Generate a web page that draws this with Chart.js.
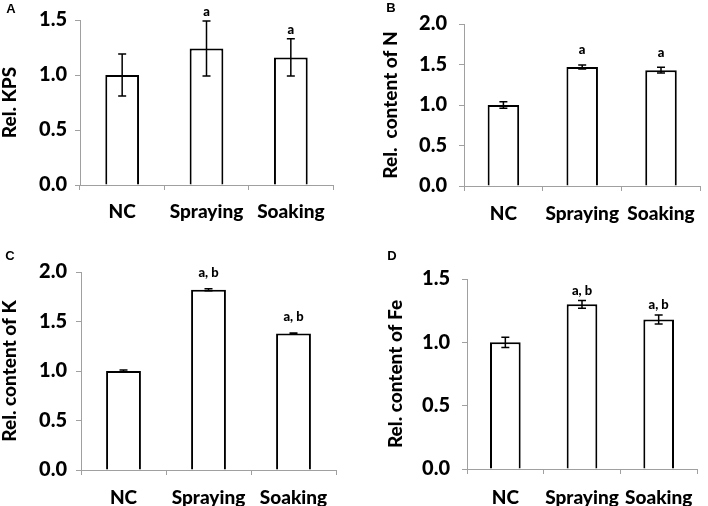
<!DOCTYPE html>
<html>
<head>
<meta charset="utf-8">
<script src="https://cdn.jsdelivr.net/npm/chart.js@4"></script>
<style>
  html, body { margin: 0; padding: 0; background: #fff; }
  #wrap { position: relative; width: 708px; height: 506px; overflow: hidden; }
  canvas { position: absolute; }
</style>
</head>
<body>
<div id="wrap">
  <canvas id="panelA" width="354" height="253" style="left:0;top:0"></canvas>
  <canvas id="panelB" width="354" height="253" style="left:354px;top:0"></canvas>
  <canvas id="panelC" width="354" height="261" style="left:0;top:245px"></canvas>
  <canvas id="panelD" width="354" height="261" style="left:354px;top:245px"></canvas>
</div>
<script>
// data
const categories = ['NC', 'Spraying', 'Soaking'];

const kpsMean = [1.00, 1.24, 1.16];
const kpsErr  = [0.19, 0.25, 0.17];
const kpsSig  = ['', 'a', 'a'];
const kpsTicks = [0, 0.5, 1.0, 1.5];

const nMean = [1.00, 1.47, 1.43];
const nErr  = [0.04, 0.025, 0.035];
const nSig  = ['', 'a', 'a'];
const nTicks = [0, 0.5, 1.0, 1.5, 2.0];

const kMean = [1.00, 1.82, 1.38];
const kErr  = [0.01, 0.01, 0.004];
const kSig  = ['', 'a, b', 'a, b'];
const kTicks = [0, 0.5, 1.0, 1.5, 2.0];

const feMean = [1.00, 1.30, 1.18];
const feErr  = [0.04, 0.03, 0.035];
const feSig  = ['', 'a, b', 'a, b'];
const feTicks = [0, 0.5, 1.0, 1.5];

const FONT = 'Lato, "Open Sans", sans-serif';
const AXIS = '#a0a0a0';

// error bars, significance letters and panel letter
const errSig = {
  id: 'errSig',
  afterDatasetsDraw(chart, args, opts) {
    const ctx = chart.ctx;
    const y = chart.scales.y;
    const meta = chart.getDatasetMeta(0);
    const vals = chart.data.datasets[0].data;
    ctx.save();
    ctx.strokeStyle = '#000';
    ctx.lineWidth = 1.5;
    ctx.fillStyle = '#000';
    ctx.textAlign = 'center';
    ctx.textBaseline = 'middle';
    ctx.font = '900 13px ' + FONT;
    meta.data.forEach((bar, i) => {
      const e = opts.errors[i];
      const cx = bar.x;
      const yt = y.getPixelForValue(vals[i] + e);
      const yb = y.getPixelForValue(vals[i] - e);
      ctx.beginPath();
      ctx.moveTo(cx, yt); ctx.lineTo(cx, yb);
      ctx.moveTo(cx - 4, yt); ctx.lineTo(cx + 4, yt);
      ctx.moveTo(cx - 4, yb); ctx.lineTo(cx + 4, yb);
      ctx.stroke();
      if (opts.sig[i]) ctx.fillText(opts.sig[i], cx, yt - opts.gap);
    });
    ctx.font = 'bold 13px "Liberation Sans", Arial, sans-serif';
    ctx.fillText(opts.letter, opts.letterX, opts.letterY);
    ctx.restore();
  }
};

function makePanel(id, means, errs, sigs, ticks, yTitle, lay) {
  const canvas = document.getElementById(id);
  const W = canvas.width, H = canvas.height;
  const yMax = ticks[ticks.length - 1];
  return new Chart(canvas, {
    type: 'bar',
    data: {
      labels: categories,
      datasets: [{
        data: means,
        backgroundColor: '#ffffff',
        borderColor: '#000000',
        borderWidth: 2,
        barPercentage: lay.barPct,
        categoryPercentage: 1
      }]
    },
    options: {
      responsive: false,
      animation: false,
      events: [],
      layout: { padding: { left: 0, top: lay.area[1], right: W - lay.area[2], bottom: 0 } },
      plugins: {
        legend: { display: false },
        tooltip: { enabled: false },
        errSig: { errors: errs, sig: sigs, gap: lay.gap, letter: lay.letter, letterX: lay.letterPos[0], letterY: lay.letterPos[1] }
      },
      scales: {
        x: {
          afterFit: s => { s.height = H - lay.area[3]; },
          grid: { offset: true, drawOnChartArea: false, tickLength: 5, color: AXIS },
          border: { color: AXIS, width: 1 },
          ticks: {
            color: '#000', padding: lay.xPad, maxRotation: 0, autoSkip: false,
            font: { family: FONT, size: 19, weight: 900, lineHeight: 1 }
          }
        },
        y: {
          min: 0,
          max: yMax,
          afterFit: s => { s.width = lay.area[0]; },
          afterBuildTicks: s => { s.ticks = ticks.map(v => ({ value: v })); },
          grid: { drawOnChartArea: false, tickLength: 5, color: AXIS },
          border: { color: AXIS, width: 1 },
          ticks: {
            color: '#000',
            padding: lay.yPad,
            font: { family: FONT, size: 20, weight: 900 },
            callback: v => Number(v).toFixed(1)
          },
          title: {
            display: true,
            text: yTitle,
            color: '#000',
            padding: { top: lay.titlePad, bottom: 0 },
            font: { family: FONT, size: 19, weight: 900, lineHeight: 1 }
          }
        }
      }
    },
    plugins: [errSig]
  });
}

makePanel('panelA', kpsMean, kpsErr, kpsSig, kpsTicks, 'Rel. KPS',
  { area: [80, 19, 333, 185], barPct: 0.4, gap: 9, yPad: 8, xPad: 12, titlePad: 0.5, letter: 'A', letterPos: [11, 9] });
makePanel('panelB', nMean, nErr, nSig, nTicks, 'Rel.  content of N',
  { area: [110, 13, 352, 186], barPct: 0.4, gap: 15, yPad: 12, xPad: 13, titlePad: 27, letter: 'B', letterPos: [37, 8] });
makePanel('panelC', kMean, kErr, kSig, kTicks, 'Rel. content of K',
  { area: [81, 27, 336, 225], barPct: 0.41, gap: 16, yPad: 9, xPad: 13, titlePad: 0.5, letter: 'C', letterPos: [10, 11] });
makePanel('panelD', feMean, feErr, feSig, feTicks, 'Rel. content of Fe',
  { area: [113, 34, 344, 224], barPct: 0.4, gap: 10, yPad: 12, xPad: 14, titlePad: 32, letter: 'D', letterPos: [38, 11] });
</script>
</body>
</html>
